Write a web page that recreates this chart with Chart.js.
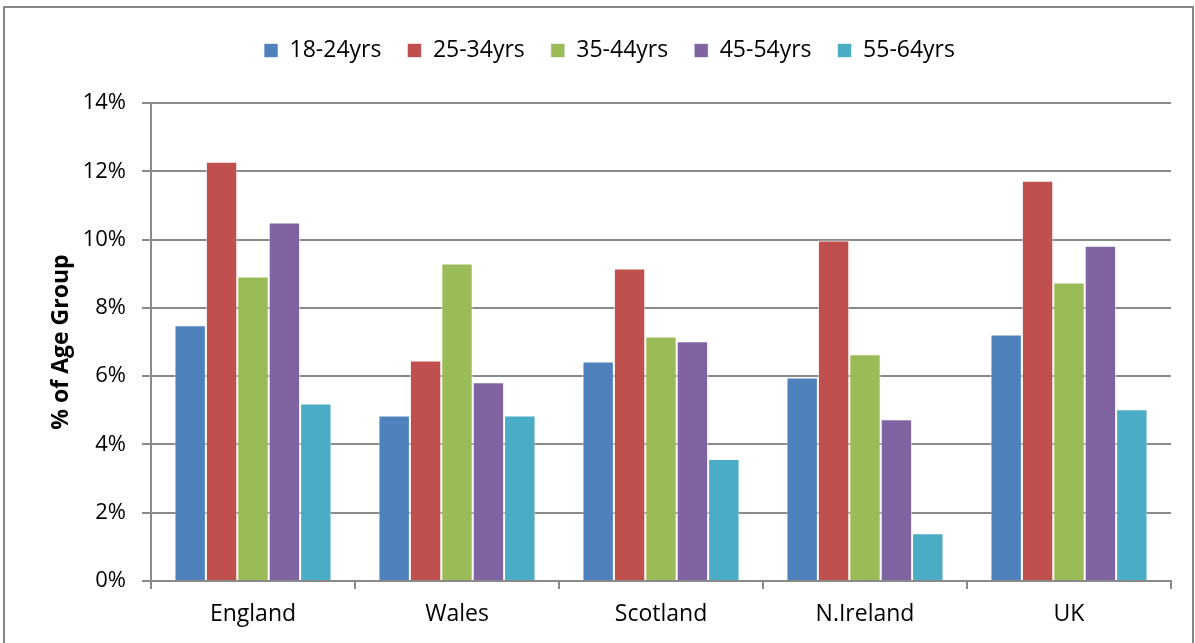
<!DOCTYPE html>
<html>
<head>
<meta charset="utf-8">
<script src="https://cdn.jsdelivr.net/npm/chart.js"></script>
<style>
  html, body { margin: 0; padding: 0; background: #fff; }
  #box { position: absolute; left: 3px; top: 6px; width: 1187px; height: 700px; border: 2px solid #878787; }
  #myChart { position: absolute; left: 0; top: 0; }
</style>
</head>
<body>
<div id="box"></div>
<canvas id="myChart" width="1195" height="643"></canvas>
<script>
// categorie e serie
const regions = ['England', 'Wales', 'Scotland', 'N.Ireland', 'UK'];
const age18_24 = [7.49, 4.85, 6.43, 5.96, 7.22];
const age25_34 = [12.28, 6.46, 9.15, 9.97, 11.72];
const age35_44 = [8.92, 9.30, 7.16, 6.64, 8.74];
const age45_54 = [10.50, 5.82, 7.02, 4.74, 9.82];
const age55_64 = [5.20, 4.85, 3.57, 1.40, 5.03];
const yTicks = [0, 2, 4, 6, 8, 10, 12, 14];

const gridCol = '#8a8a8a';
const font = '"Open Sans", Lato, sans-serif';

// spazio extra sotto la legenda
const legendGap = {
    id: 'legendGap',
    beforeInit(chart) {
        const fit = chart.legend.fit;
        chart.legend.fit = function () { fit.bind(chart.legend)(); this.height += 31; };
    }
};

const ctx = document.getElementById('myChart');
new Chart(ctx, {
    type: 'bar',
    data: {
        labels: regions,
        datasets: [
            { label: '18-24yrs', data: age18_24, backgroundColor: '#4F81BD' },
            { label: '25-34yrs', data: age25_34, backgroundColor: '#C0504D' },
            { label: '35-44yrs', data: age35_44, backgroundColor: '#9BBB59' },
            { label: '45-54yrs', data: age45_54, backgroundColor: '#8064A2' },
            { label: '55-64yrs', data: age55_64, backgroundColor: '#4BACC6' }
        ].map(d => Object.assign(d, {
            borderWidth: 1,
            borderColor: 'rgba(255,255,255,0.6)',
            categoryPercentage: 0.77,
            barPercentage: 1.0
        }))
    },
    plugins: [legendGap],
    options: {
        responsive: false,
        animation: false,
        devicePixelRatio: 1,
        layout: { padding: { top: 13, left: 48, right: 24, bottom: 0 } },
        plugins: {
            tooltip: { enabled: false },
            legend: {
                position: 'top',
                labels: {
                    boxWidth: 14, boxHeight: 14, padding: 26,
                    color: '#000',
                    font: { family: font, size: 23 }
                }
            }
        },
        scales: {
            x: {
                grid: { drawOnChartArea: false, drawTicks: true, tickLength: 8, color: gridCol, lineWidth: 2 },
                border: { color: gridCol, width: 2 },
                ticks: { color: '#000', font: { family: font, size: 23 }, padding: 12, maxRotation: 0 },
                afterFit: s => { s.height = 62; }
            },
            y: {
                min: 0, max: 14,
                afterBuildTicks: s => { s.ticks = yTicks.map(v => ({ value: v })); },
                grid: { color: gridCol, lineWidth: 2, tickLength: 9 },
                border: { color: gridCol, width: 2 },
                ticks: { color: '#000', font: { family: font, size: 22 }, padding: 16, callback: v => v + '%' },
                title: { display: true, text: '% of Age Group', color: '#000', font: { family: font, size: 23, weight: 'bold' }, padding: 0 },
                afterFit: s => { s.width = 103; }
            }
        }
    }
});
</script>
</body>
</html>
